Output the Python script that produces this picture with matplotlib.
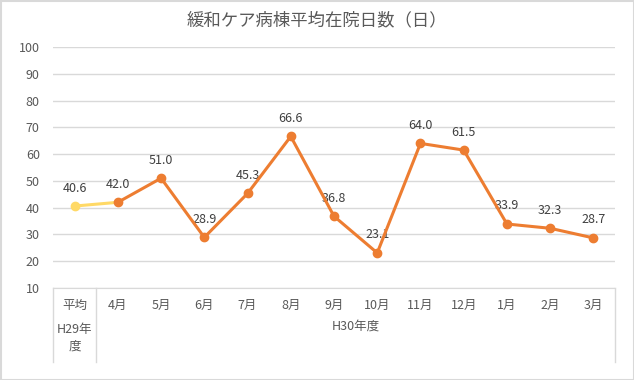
import matplotlib.pyplot as plt
from matplotlib.patches import Rectangle
from matplotlib.lines import Line2D

plt.rcParams['font.family'] = ['Noto Sans CJK JP', 'DejaVu Sans']

# data
months = ["平均", "4月", "5月", "6月", "7月", "8月", "9月", "10月", "11月", "12月", "1月", "2月", "3月"]
days = [40.6, 42.0, 51.0, 28.9, 45.3, 66.6, 36.8, 23.1, 64.0, 61.5, 33.9, 32.3, 28.7]
groups = ["H29年\n度", "H30年度"]
yticks = [10, 20, 30, 40, 50, 60, 70, 80, 90, 100]

text_color = "#595959"
grid_color = "#D9D9D9"
orange = "#ED7D31"
yellow = "#FFD966"

fig = plt.figure(figsize=(6.34, 3.80), dpi=100)
ax = fig.add_axes([53/634, 1 - 288/380, (615 - 53)/634, (288 - 47)/380])

x = list(range(len(months)))

# previous-year average to April, in yellow
ax.plot(x[:2], days[:2], color=yellow, lw=2.2, zorder=3)
ax.plot(x[0], days[0], "o", color=yellow, ms=6, zorder=4)
# monthly values
ax.plot(x[1:], days[1:], color=orange, lw=2.2, marker="o", ms=6, zorder=4)

for xi, v in zip(x, days):
    ax.annotate(f"{v:.1f}", (xi, v), xytext=(0, 13), textcoords="offset points",
                ha="center", va="center", fontsize=9, color="#404040")

ax.set_xlim(-0.5, len(months) - 0.5)
ax.set_ylim(10, 100)
ax.set_yticks(yticks)
ax.set_xticks(x)
ax.set_xticklabels(months)
ax.tick_params(axis="both", length=0, labelsize=9, colors=text_color)
ax.tick_params(axis="x", pad=8)
ax.tick_params(axis="y", pad=9.5)
ax.grid(axis="y", color=grid_color, lw=1)
ax.set_axisbelow(True)
for s in ["top", "right", "left"]:
    ax.spines[s].set_visible(False)
ax.spines["bottom"].set_color(grid_color)

# second level of the category axis
trans = ax.get_xaxis_transform()
depth = -(362 - 288) / (288 - 47)
for xs in [-0.5, 0.5, len(months) - 0.5]:
    ax.add_line(Line2D([xs, xs], [0, depth], transform=trans, color=grid_color,
                       lw=1, clip_on=False))
ax.text(0, -(338 - 288) / (288 - 47), groups[0], transform=trans, ha="center",
        va="center", fontsize=9, color=text_color, linespacing=1.3)
ax.text((1 + len(months) - 1) / 2, -(326 - 288) / (288 - 47), groups[1],
        transform=trans, ha="center", va="center", fontsize=9, color=text_color)

fig.suptitle("緩和ケア病棟平均在院日数（日）", y=1 - 20/380, va="center",
             fontsize=12.5, color=text_color)

fig.patches.append(Rectangle((0.5/634, 0.5/380), 1 - 1/634, 1 - 1/380,
                             transform=fig.transFigure, fill=False,
                             edgecolor=grid_color, lw=1.5))

fig.savefig("out.png", dpi=100)
